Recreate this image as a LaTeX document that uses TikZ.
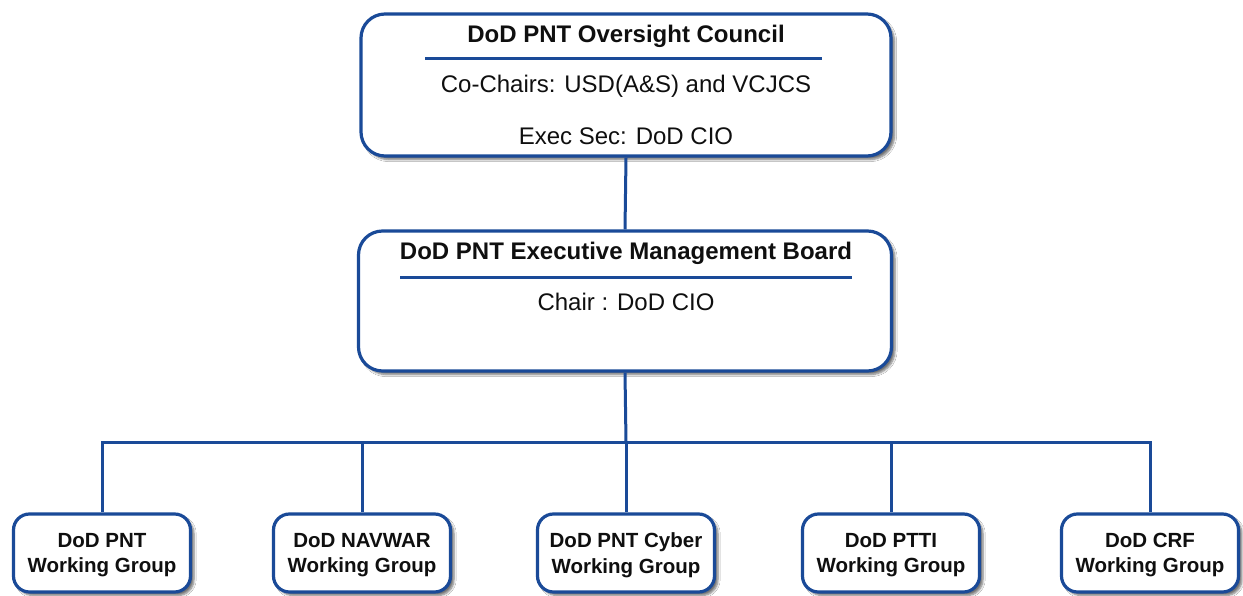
\documentclass[tikz,border=0pt]{standalone}
\usepackage{fontspec}
\setmainfont{Liberation Sans}
\usetikzlibrary{shadows.blur}
\definecolor{dblue}{RGB}{26,74,152}
\definecolor{txt}{RGB}{15,15,15}
\begin{document}
\begin{tikzpicture}[x=1pt,y=-1pt,
  box/.style={draw=dblue, line width=3.2pt, fill=white, inner sep=0pt,
    blur shadow={shadow xshift=3.5pt, shadow yshift=-3.5pt, shadow blur steps=6, shadow opacity=55}},
  bigbox/.style={box, rounded corners=24pt},
  wgbox/.style={box, rounded corners=16pt, minimum width=177pt, minimum height=78pt},
  wgtext/.style={align=center, text=txt, inner sep=0pt, font=\bfseries\fontsize{20.5}{25.5}\selectfont},
  title/.style={text=txt, font=\bfseries\fontsize{24}{28}\selectfont, inner sep=0pt},
  plain/.style={text=txt, font=\fontsize{24}{28}\selectfont, inner sep=0pt},
  divider/.style={draw=dblue, line width=3pt},
  link/.style={draw=dblue, line width=3pt}]
\fill[white] (0,0) rectangle (1243,596);
\useasboundingbox (0,0) rectangle (1243,596);

% top box
\node[bigbox, minimum width=530pt, minimum height=142pt] (top) at (626,85) {};
\node[title] (toptitle) at (626,36) {DoD PNT Oversight Council};
\draw[divider] (425,59) -- (822,59);
\node[plain] (cochairs) at (626,86) {Co-Chairs: USD(A\&S) and VCJCS};
\node[plain] (execsec) at (626,136) {Exec Sec: DoD CIO};

% middle box
\node[bigbox, minimum width=533pt, minimum height=140pt] (mid) at (625,301) {};
\node[title] (midtitle) at (626,253) {DoD PNT Executive Management Board};
\draw[divider] (400,278) -- (852,278);
\node[plain] (chair) at (626,302) {Chair : DoD CIO};

% working groups
\foreach \i/\x/\t in {1/102/DoD PNT, 2/362/DoD NAVWAR, 3/626/DoD PNT Cyber, 4/891/DoD PTTI, 5/1150/DoD CRF}{
  \node[wgbox] (wg\i) at (\x,553) {};
  \node[wgtext] (wgt\i) at (\x,555) {\t\\Working Group};
}

% connectors
\coordinate (hub) at (626,442);
\draw[link] (top.south) -- (mid.north);
\draw[link] (mid.south) -- (hub);
\foreach \i in {1,...,5}{
  \draw[link] (hub) -| (wg\i.north);
}
\end{tikzpicture}
\end{document}
